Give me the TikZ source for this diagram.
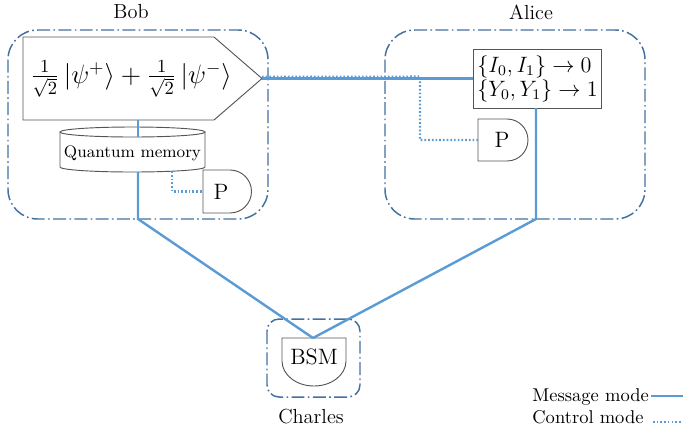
\documentclass[tikz,border=0pt]{standalone}
\usepackage{amsmath}
\definecolor{frameblue}{RGB}{68,114,160}
\definecolor{lineblue}{RGB}{91,155,213}
\definecolor{shapegray}{RGB}{85,85,85}
\begin{document}
\begin{tikzpicture}[x=0.54pt,y=-0.54pt,
  frame/.style={draw=frameblue, line width=0.8pt, dash pattern=on 7pt off 1.8pt on 0.9pt off 1.8pt},
  msg/.style={draw=lineblue, line width=1.3pt},
  ctrl/.style={draw=lineblue, line width=1.1pt, dash pattern=on 0.9pt off 1.1pt},
  outline/.style={draw=shapegray, line width=0.5pt},
  lbl/.style={font=\normalsize, inner sep=0pt},
  who/.style={font=\fontsize{11}{13}\selectfont, inner sep=0pt}]
\useasboundingbox (0,0) rectangle (683,432);

% frames
\draw[frame, rounded corners=16pt] (8,30) rectangle (268,219);
\draw[frame, rounded corners=16pt] (385,30) rectangle (645,219);
\draw[frame, rounded corners=6.5pt] (267,319) rectangle (360,397);

% labels
\node[who] (bob) at (131,12) {Bob};
\node[who] (alice) at (531,12) {Alice};
\node[who] (charles) at (311,417) {Charles};

% Bob: state preparation (pentagon)
\coordinate (tip) at (262,78.5);
\coordinate (stateS) at (138,120);
\draw[outline] (23,37) -- (214,37) -- (tip) -- (214,120) -- (23,120) -- cycle;
\node[inner sep=0pt] (state) at (131,79) {\Large $\frac{1}{\sqrt{2}}\left|\psi^{+}\right\rangle+\frac{1}{\sqrt{2}}\left|\psi^{-}\right\rangle$};

% quantum memory (cylinder)
\draw[outline] (132.5,132) ellipse [x radius=72.5, y radius=5];
\draw[outline] (60,132) -- (60,167) arc[start angle=180, end angle=0, x radius=72.5, y radius=5] -- (205,132);
\coordinate (qmN) at (138,136.8);
\coordinate (qmS) at (138,172);
\coordinate (qmC) at (172,171.2);
\node (qm) at (132.5,153) {\small Quantum memory};

% Bob P
\draw[outline] (230,170) -- (203,170) -- (203,213) -- (230,213) arc[start angle=90, end angle=-90, radius=21.5] ;
\coordinate (bobPW) at (203,191.5);
\node (bobP) at (221,191.5) {\large P};

% Alice rule box
\node[outline, minimum width=66.4pt, minimum height=31.9pt, inner sep=2pt, align=left, font=\large] (rule) at (537.5,78.5)
  {$\{I_0,I_1\}\rightarrow 0$\\[-1pt] $\{Y_0,Y_1\}\rightarrow 1$};
\coordinate (ruleS) at (536,108);

% Alice P
\draw[outline] (507,119) -- (478,119) -- (478,161) -- (507,161) arc[start angle=90, end angle=-90, radius=21];
\coordinate (alicePW) at (478,140);
\node (aliceP) at (502,140) {\large P};

% BSM
\draw[outline] (282,338) -- (346,338) -- (346,361) arc[start angle=0, end angle=180, x radius=32, y radius=25] -- cycle;
\coordinate (bsmN) at (313,338);
\node (bsm) at (314,357) {\large BSM};

% corners
\coordinate (bobC) at (138,219);
\coordinate (aliceC) at (536,219);

% message lines
\draw[msg] (stateS) -- (qmN);
\draw[msg] (qmS) -- (bobC) -- (bsmN);
\draw[msg] (tip) -- (rule.west);
\draw[msg] (ruleS) -- (aliceC) -- (bsmN);

% control lines
\draw[ctrl] (qmC) -- (172,191.5) -- (bobPW);
\draw[ctrl] ([yshift=1pt]tip) -- (420,76.5) -- (420,140) -- (alicePW);

% legend
\node[lbl, anchor=base west] (lmsg) at (532,401) {Message mode};
\node[lbl, anchor=base west] (lctrl) at (532,423) {Control mode};
\coordinate (lmsgE) at (683,396);
\coordinate (lctrlE) at (683,422);
\draw[msg] (651,396) -- (lmsgE);
\draw[ctrl] (653,422) -- (lctrlE);
\end{tikzpicture}
\end{document}
